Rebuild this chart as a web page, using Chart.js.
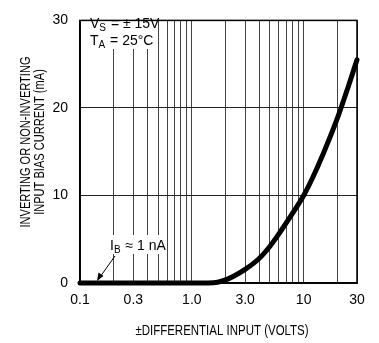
<!DOCTYPE html>
<html>
<head>
<meta charset="utf-8">
<script src="https://cdn.jsdelivr.net/npm/chart.js@4/dist/chart.umd.min.js"></script>
<style>
  html, body { margin: 0; padding: 0; background: #fff; }
  #wrap { width: 379px; height: 343px; }
</style>
</head>
<body>
<div id="wrap"><canvas id="c" width="379" height="343"></canvas></div>
<script>
// ── Data ────────────────────────────────────────────────────────────────────
const volts   = [0.1, 0.2, 0.5, 1.0, 1.4, 1.7, 2.0, 2.5, 3.0, 4.0, 5.0, 6.0, 8.0, 10, 12, 15, 20, 25, 30];
const current = [0,   0,   0,   0,   0,   0.08, 0.35, 0.95, 1.55, 2.8, 4.2, 5.6, 8.0, 10.0, 12.0, 14.8, 18.8, 22.4, 25.5];

const xGrid   = [0.1, 0.2, 0.3, 0.4, 0.5, 0.6, 0.7, 0.8, 0.9, 1, 2, 3, 4, 5, 6, 7, 8, 9, 10, 20, 30];
const xLabels = { 0.1: '0.1', 0.3: '0.3', 1: '1.0', 3: '3.0', 10: '10', 30: '30' };
const yTicks  = [0, 10, 20, 30];

const FONT = "'Liberation Sans', Arial, sans-serif";

// ── Text overlays (annotations + axis titles) ───────────────────────────────
function sub(ctx, main, s, after, x, y) {
  ctx.font = '14px ' + FONT;
  ctx.fillText(main, x, y);
  let w = ctx.measureText(main).width;
  ctx.font = '10px ' + FONT;
  ctx.fillText(s, x + w, y + 3);
  w += ctx.measureText(s).width + 1;
  ctx.font = '14px ' + FONT;
  ctx.fillText(after, x + w, y);
}

const overlay = {
  id: 'overlay',
  beforeDatasetsDraw(chart) {
    const ctx = chart.ctx;
    ctx.save();
    ctx.fillStyle = '#fff';
    // white boxes knocking out grid behind the notes
    ctx.fillRect(87, 13, 70, 36);
    ctx.fillRect(107, 235, 60, 19);
    ctx.restore();
  },
  afterDraw(chart) {
    const ctx = chart.ctx;
    ctx.save();
    ctx.fillStyle = '#000';
    ctx.textBaseline = 'alphabetic';

    sub(ctx, 'V', 'S', ' = \u00b1 15V', 90, 28);
    sub(ctx, 'T', 'A', ' = 25\u00b0C', 90, 45);
    sub(ctx, 'I', 'B', ' \u2248 1 nA', 110, 250);

    // arrow to the flat part of the curve
    ctx.strokeStyle = '#000';
    ctx.lineWidth = 1;
    ctx.beginPath();
    ctx.moveTo(115, 256);
    ctx.lineTo(100, 277);
    ctx.stroke();
    ctx.beginPath();
    ctx.moveTo(97, 281);
    ctx.lineTo(98.5, 272.5);
    ctx.lineTo(103.5, 276);
    ctx.closePath();
    ctx.fill();

    // x axis title (condensed like the original lettering)
    ctx.font = '14px ' + FONT;
    ctx.textAlign = 'center';
    ctx.save();
    ctx.translate(222, 335);
    ctx.scale(0.82, 1);
    ctx.fillText('\u00b1DIFFERENTIAL INPUT (VOLTS)', 0, 0);
    ctx.restore();

    // y axis title, two lines
    ctx.translate(0, 142);
    ctx.rotate(-Math.PI / 2);
    ctx.scale(0.79, 1);
    ctx.fillText('INVERTING OR NON-INVERTING', 0, 30);
    ctx.fillText('INPUT BIAS CURRENT (mA)', 0, 44);
    ctx.restore();
  }
};

new Chart(document.getElementById('c'), {
  type: 'line',
  data: {
    labels: volts,
    datasets: [{
      data: volts.map((v, i) => ({ x: v, y: current[i] })),
      borderColor: '#000',
      borderWidth: 5,
      pointRadius: 0,
      cubicInterpolationMode: 'monotone',
      borderCapStyle: 'round',
      fill: false,
      clip: false
    }]
  },
  options: {
    responsive: false,
    animation: false,
    devicePixelRatio: 1,
    layout: { padding: { top: 6, right: 22, left: 0, bottom: 0 } },
    plugins: { legend: { display: false }, tooltip: { enabled: false } },
    scales: {
      x: {
        type: 'logarithmic',
        min: 0.1, max: 30,
        afterBuildTicks: s => { s.ticks = xGrid.map(v => ({ value: v })); },
        afterFit: s => { s.height = 60; },
        ticks: {
          autoSkip: false, maxRotation: 0, padding: 9,
          color: '#000', font: { family: FONT, size: 14 },
          callback: v => xLabels[v] || ''
        },
        grid: { color: '#444', lineWidth: 1, drawTicks: false },
        border: { color: '#000', width: 1.5 }
      },
      y: {
        min: 0, max: 30,
        afterBuildTicks: s => { s.ticks = yTicks.map(v => ({ value: v })); },
        afterFit: s => { s.width = 80; },
        ticks: {
          padding: 12, color: '#000', font: { family: FONT, size: 14 }
        },
        grid: { color: '#222', lineWidth: 1, drawTicks: false },
        border: { color: '#000', width: 1.5 }
      }
    }
  },
  plugins: [overlay, {
    id: 'frame',
    afterDatasetsDraw(chart) {
      const a = chart.chartArea, ctx = chart.ctx;
      ctx.save();
      ctx.strokeStyle = '#000';
      ctx.lineWidth = 1.5;
      ctx.strokeRect(a.left, a.top, a.right - a.left, a.bottom - a.top);
      ctx.restore();
    }
  }]
});
</script>
</body>
</html>
